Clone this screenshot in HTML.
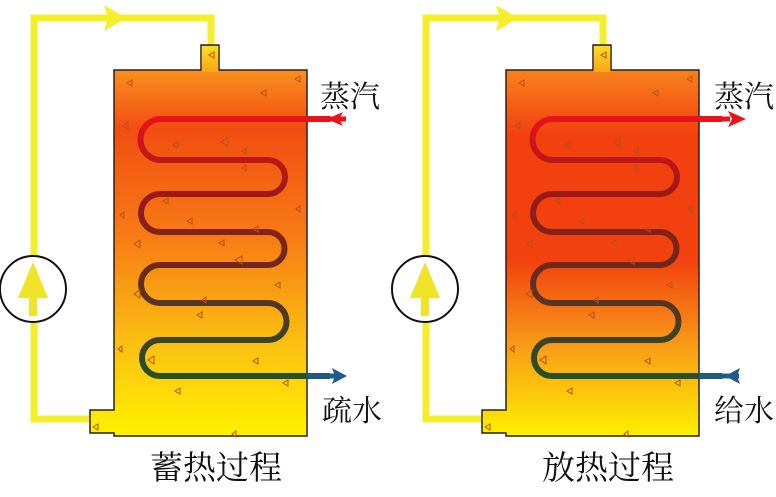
<!DOCTYPE html>
<html><head><meta charset="utf-8"><style>
html,body{margin:0;padding:0;background:#fff;}
svg{display:block;}
text{font-family:"Liberation Serif","Noto Serif CJK SC","Noto Sans CJK SC",serif;fill:#111;}
</style></head><body>
<svg width="776" height="497" viewBox="0 0 776 497" xmlns="http://www.w3.org/2000/svg">
<defs>
<linearGradient id="tankL" x1="0" y1="70" x2="0" y2="436" gradientUnits="userSpaceOnUse">
<stop offset="0" stop-color="#f8901e"/>
<stop offset="0.16" stop-color="#f24d12"/>
<stop offset="0.45" stop-color="#f77a14"/>
<stop offset="0.75" stop-color="#fbc012"/>
<stop offset="1" stop-color="#fff200"/>
</linearGradient>
<linearGradient id="tankR" x1="0" y1="70" x2="0" y2="436" gradientUnits="userSpaceOnUse">
<stop offset="0" stop-color="#f8821c"/>
<stop offset="0.18" stop-color="#f2400f"/>
<stop offset="0.52" stop-color="#f2420f"/>
<stop offset="0.75" stop-color="#f89a18"/>
<stop offset="1" stop-color="#fff000"/>
</linearGradient>
<linearGradient id="nozT" x1="0" y1="45" x2="0" y2="72" gradientUnits="userSpaceOnUse">
<stop offset="0" stop-color="#fde020"/><stop offset="1" stop-color="#f9a51c"/>
</linearGradient>
<linearGradient id="pipe" x1="0" y1="118" x2="0" y2="376" gradientUnits="userSpaceOnUse">
<stop offset="0" stop-color="#e8141a"/>
<stop offset="0.3" stop-color="#9a1a18"/>
<stop offset="0.6" stop-color="#6a2a1c"/>
<stop offset="1" stop-color="#24502e"/>
</linearGradient>
<g id="loop" fill="none">
<path d="M34 290 V18 H211 V46" stroke="#f5ee2a" stroke-width="7"/>
<path d="M34 290 V419 H91" stroke="#f5ee2a" stroke-width="7"/>
<polygon points="104,5 126,18 104,31 108,18" fill="#f5ee2a"/>
<circle cx="33" cy="289" r="33" stroke="#111" stroke-width="2" fill="#fff"/>
<polygon points="33,262 48,298 18,298" fill="#f0e428"/>
<rect x="29" y="296" width="8" height="20" fill="#f0e428"/>
</g>
<path id="coil" d="M330 119 H161 A20.5 20.5 0 0 0 161 160 H268 A17 17 0 0 1 268 194 H160 A19 19 0 0 0 160 232 H268 A16.5 16.5 0 0 1 268 265 H160 A19 19 0 0 0 160 303 H268 A18.5 18.5 0 0 1 268 340 H160 A18 18 0 0 0 160 376 H330" fill="none" stroke="url(#pipe)" stroke-width="6"/>
<g id="tri" fill="none" stroke="#b8501a" stroke-width="1">
<path d="M132 80 l-5 3 l5 3z M300 76 l-5 3 l5 3z M266 90 l-5 3 l5 3z M128 122 l-5 4 l5 3z M178 142 l-5 3 l5 3z M228 138 l-7 4 l7 4z M246 148 l-4 3 l4 3z M246 165 l-4 3 l4 3z M168 198 l-5 3 l5 3z M300 206 l-4 3 l4 3z M124 212 l-4 3 l4 3z M192 218 l-5 3 l5 3z M258 226 l-5 3 l5 3z M140 240 l-6 4 l6 4z M224 240 l-5 3 l5 3z M242 256 l-7 4 l7 4z M280 282 l-5 3 l5 3z M140 290 l-6 4 l6 4z M206 297 l-4 3 l4 3z M202 312 l-5 3 l5 3z M122 346 l-4 3 l4 3z M154 356 l-6 4 l6 4z M258 358 l-5 3 l5 3z M288 380 l-5 3 l5 3z M180 388 l-5 3 l5 3z M236 431 l-4 3 l4 3z M214 52 l-5 3 l5 3z M98 424 l-5 3 l5 3z"/>
</g>
</defs>

<!-- LEFT -->
<use href="#loop"/>
<path d="M114 70 H201 V45 H219 V70 H307 V436 H114 V433 H90 V410 H114 Z" fill="url(#tankL)" stroke="#222" stroke-width="1.5"/>
<rect x="201.7" y="46" width="16.6" height="26" fill="url(#nozT)"/>
<use href="#coil"/>
<use href="#tri"/>
<rect x="306" y="116.5" width="40" height="5" fill="#e8141a"/>
<polygon points="327,119 343,112 339,119 343,126" fill="#e8141a"/>
<polygon points="332,368 347,376 332,384 335,376" fill="#1f5c8a"/>
<rect x="307" y="373.5" width="28" height="5" fill="#1f5c8a"/>
<text x="320" y="107" font-size="30">蒸汽</text>
<text x="322" y="421" font-size="30">疏水</text>
<text x="150" y="479" font-size="33">蓄热过程</text>

<!-- RIGHT -->
<g transform="translate(392,0)">
<use href="#loop"/>
<path d="M114 70 H201 V45 H219 V70 H307 V436 H114 V433 H90 V410 H114 Z" fill="url(#tankR)" stroke="#222" stroke-width="1.5"/>
<rect x="201.7" y="46" width="16.6" height="26" fill="url(#nozT)"/>
<use href="#coil"/>
<use href="#tri"/>
<rect x="306" y="116.5" width="32" height="5" fill="#e8141a"/>
<polygon points="336,111 354,119 336,127 340,119" fill="#e8141a"/>
<rect x="307" y="373.5" width="40" height="5" fill="#1f5c8a"/>
<polygon points="348,368 333,376 348,384 345,376" fill="#1f5c8a"/>
<text x="322" y="107" font-size="30">蒸汽</text>
<text x="322" y="421" font-size="30">给水</text>
<text x="150" y="479" font-size="33">放热过程</text>
</g>
</svg>
</body></html>
